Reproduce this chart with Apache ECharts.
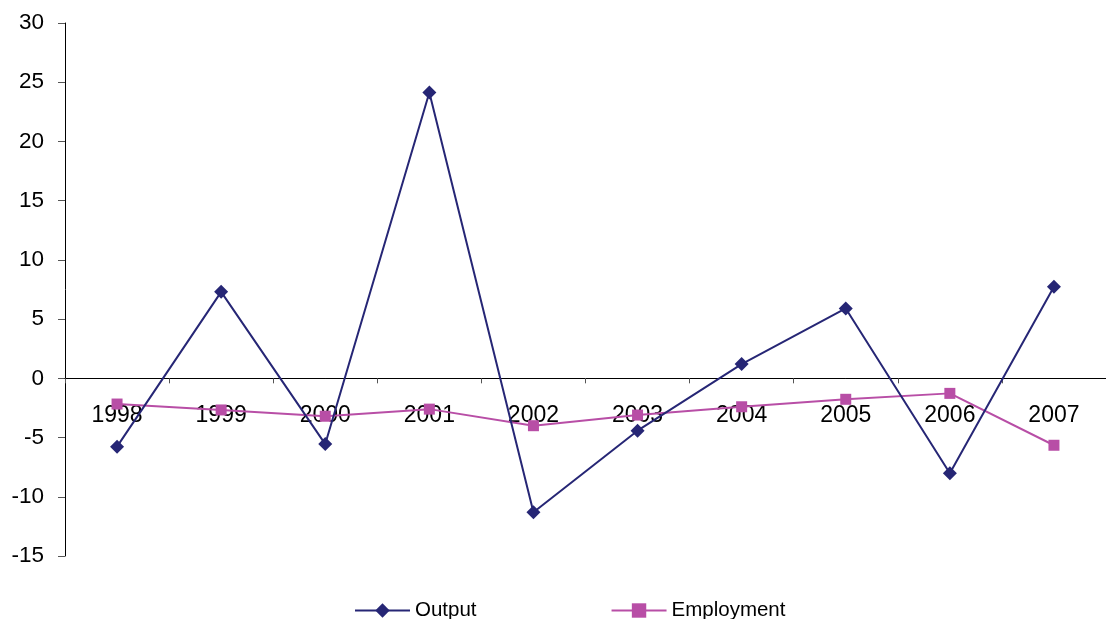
<!DOCTYPE html>
<html>
<head>
<meta charset="utf-8">
<script src="https://cdn.jsdelivr.net/npm/echarts@6/dist/echarts.min.js"></script>
<style>
  html, body { margin: 0; padding: 0; background: #fff; }
  #chart { width: 1106px; height: 619px; }
</style>
</head>
<body>
<div id="chart"></div>
<script>
// Annual change, per cent
const years = ['1998', '1999', '2000', '2001', '2002', '2003', '2004', '2005', '2006', '2007'];
const output = [-5.77, 7.3, -5.55, 24.13, -11.3, -4.42, 1.2, 5.9, -8.02, 7.73];
const employment = [-2.17, -2.67, -3.2, -2.6, -4.0, -3.1, -2.4, -1.77, -1.27, -5.65];
const yMin = -15, yMax = 30, yStep = 5;

const FONT = '"Liberation Sans", Arial, sans-serif';
const OUTPUT_COLOR = '#262675';
const EMPLOYMENT_COLOR = '#b84ea6';

const W = 1106, H = 619;
const GRID = { left: 65, right: -9, top: 23, bottom: 63 };
// The category axis sits on the zero line: shift it up from the grid bottom.
const plotH = H - GRID.top - GRID.bottom;
const zeroOffset = -plotH * (0 - yMin) / (yMax - yMin);

const chart = echarts.init(document.getElementById('chart'), null, { renderer: 'canvas' });

chart.setOption({
  animation: false,
  backgroundColor: '#ffffff',
  textStyle: { fontFamily: FONT },
  grid: Object.assign({ containLabel: false }, GRID),
  legend: {
    left: 354,
    top: 600,
    padding: 0,
    itemWidth: 55,
    itemHeight: 18,
    itemGap: 134,
    textStyle: { fontFamily: FONT, fontSize: 20.5, color: '#000' },
    data: ['Output', 'Employment']
  },
  xAxis: {
    type: 'category',
    data: years,
    boundaryGap: true,
    offset: zeroOffset,
    axisLine: { onZero: false, lineStyle: { color: '#000', width: 1 } },
    axisTick: { show: true, length: 5, lineStyle: { color: '#555' } },
    axisLabel: { fontFamily: FONT, fontSize: 23, color: '#000', margin: 26 },
    splitLine: { show: false },
    z: 1
  },
  yAxis: {
    type: 'value',
    min: yMin,
    max: yMax,
    interval: yStep,
    axisLine: { show: true, lineStyle: { color: '#000', width: 1 } },
    axisTick: { show: true, length: 7, lineStyle: { color: '#555' } },
    axisLabel: { fontFamily: FONT, fontSize: 22.5, color: '#000', margin: 21 },
    splitLine: { show: false }
  },
  series: [
    {
      name: 'Output',
      type: 'line',
      data: output,
      symbol: 'diamond',
      symbolSize: 14,
      showAllSymbol: true,
      lineStyle: { color: OUTPUT_COLOR, width: 2 },
      itemStyle: { color: OUTPUT_COLOR },
      z: 3
    },
    {
      name: 'Employment',
      type: 'line',
      data: employment,
      symbol: 'rect',
      symbolSize: 11,
      showAllSymbol: true,
      lineStyle: { color: EMPLOYMENT_COLOR, width: 2 },
      itemStyle: { color: EMPLOYMENT_COLOR },
      z: 2
    }
  ]
});
</script>
</body>
</html>
